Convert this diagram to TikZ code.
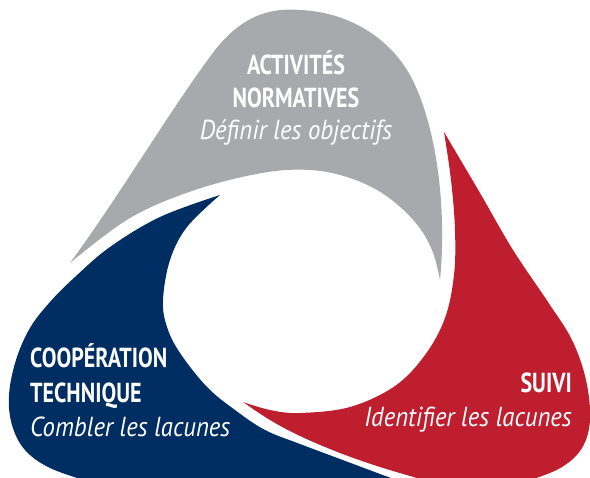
\documentclass[tikz,border=0pt]{standalone}
\usepackage{fontspec}
\setmainfont{PT Sans}[FakeStretch=0.8]
\newfontfamily\tagfont{PT Sans}[FakeStretch=0.9]
\definecolor{bladegray}{RGB}{167,169,172}
\definecolor{bladered}{RGB}{190,30,45}
\definecolor{bladenavy}{RGB}{0,45,98}
\begin{document}
\begin{tikzpicture}[x=1pt,y=-1pt,
  heading/.style={font=\bfseries\fontsize{27.5}{33}\selectfont, text=white, inner sep=0pt},
  tagline/.style={font=\tagfont\itshape\fontsize{27.5}{33}\selectfont, text=white, inner sep=0pt},
  edge/.style={smooth, tension=0.6}]
  \path[use as bounding box] (0,0) rectangle (590,478);
  \clip (0,0) rectangle (590,478);

  % top blade
  \fill[bladegray] (70,263)
    .. controls (120,195) and (170,110) .. (215,50)
    .. controls (245,12) and (275,8) .. (300,10)
    .. controls (350,12) and (395,40) .. (415,85)
    .. controls (440,140) and (446,220) .. (440,280)
    -- plot[edge] coordinates {(440,280) (432,250) (415,222) (385,195) (350,178) (310,170) (262,173) (195,190) (130,218) (70,263)}
    -- cycle;

  % right blade
  \fill[bladered] (444,132)
    -- plot[edge] coordinates {(444,132) (480,193) (513,250) (548,302) (572,340) (586,380) (590,420) (582,448) (562,467) (530,480) (490,490) (460,492)}
    -- plot[edge] coordinates {(460,492) (420,479) (380,467) (340,453) (300,436) (270,420) (243,402)}
    -- plot[edge] coordinates {(243,402) (270,410) (300,413) (350,407) (395,386) (425,355) (445,318) (454,275) (455,230) (451,180) (444,132)}
    -- cycle;

  % left blade
  \fill[bladenavy] (220,195)
    -- plot[edge] coordinates {(220,195) (160,217) (110,247) (75,277) (50,302) (30,328) (16,360) (9,395) (12,425) (25,450) (50,468) (90,482)}
    -- (90,500) -- (430,500)
    -- plot[edge] coordinates {(430,500) (420,489) (380,474) (340,459) (300,444) (265,430) (235,410) (207,387) (180,353) (167,327) (163,300) (170,260) (187,227) (220,195)}
    -- cycle;

  % labels
  \node[heading, anchor=base] (t1) at (296,75) {ACTIVITÉS};
  \node[heading, anchor=base] (t2) at (296,108) {NORMATIVES};
  \node[tagline, anchor=base] (t3) at (296,140) {Définir les objectifs};

  \node[heading, anchor=base west] (l1) at (30,368) {COOPÉRATION};
  \node[heading, anchor=base west] (l2) at (30,403) {TECHNIQUE};
  \node[tagline, anchor=base west] (l3) at (30,437) {Combler les lacunes};

  \node[heading, anchor=base east] (r1) at (572,393) {SUIVI};
  \node[tagline, anchor=base east] (r2) at (572,427) {Identifier les lacunes};
\end{tikzpicture}
\end{document}
